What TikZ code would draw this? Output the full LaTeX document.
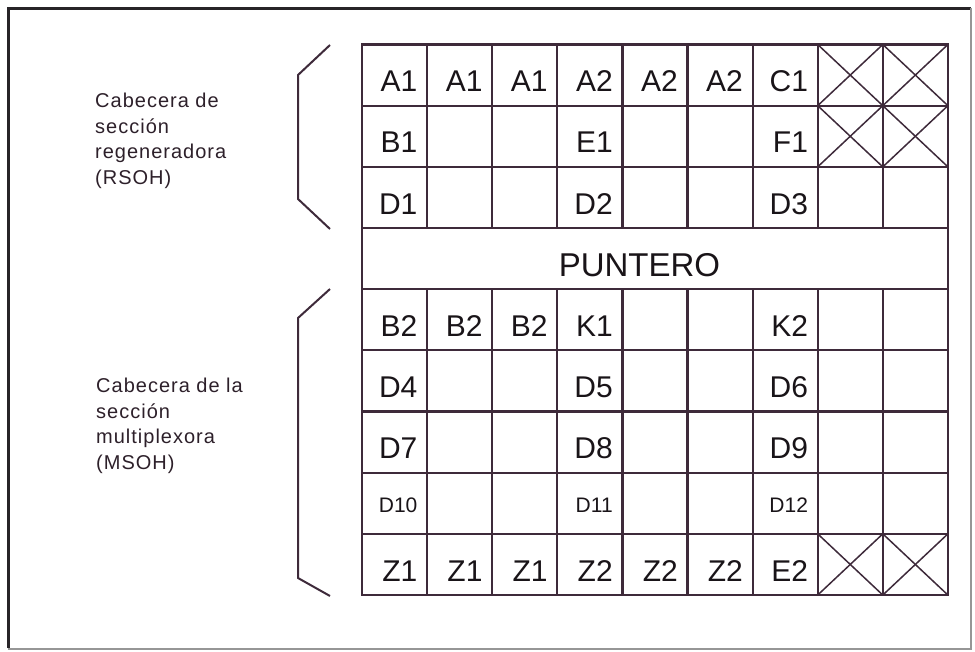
\documentclass[tikz,border=0pt]{standalone}
\usepackage{fontspec}
\setmainfont{Liberation Sans}
\definecolor{ln}{RGB}{62,42,58}
\definecolor{tx}{RGB}{25,20,24}
\definecolor{lt}{RGB}{45,32,42}
\definecolor{fr}{RGB}{40,36,40}
\definecolor{frg}{RGB}{150,150,150}
\begin{document}
\begin{tikzpicture}[x=1pt,y=-1pt,
  gridline/.style={draw=ln,line width=2.2pt,line cap=rect},
  crossline/.style={draw=ln,line width=1.5pt},
  bracketline/.style={draw=ln,line width=2pt},
  celltext/.style={anchor=base east,inner sep=0pt,text=tx,font=\fontsize{30}{30}\selectfont},
  smalltext/.style={anchor=base east,inner sep=0pt,text=tx,font=\fontsize{21}{21}\selectfont},
  sidetext/.style={anchor=base west,inner sep=0pt,text=lt,align=left,
     font=\fontsize{20}{25.5}\selectfont\addfontfeatures{LetterSpace=5}}]
\useasboundingbox (0,0) rectangle (975,651);
% frame
\draw[fr,line width=3pt] (8,648) -- (8,8) -- (971,8);
\draw[frg,line width=2pt] (8,649) -- (971,649) -- (971,8);
% grid coordinates
\def\gx#1{362+65.1*#1}
\def\gy#1{44.5+61.17*#1}
\foreach \j in {0,...,9}{
  \draw[gridline] ({\gx{0}},{\gy{\j}}) -- ({\gx{9}},{\gy{\j}});
}
\draw[gridline] ({\gx{0}},{\gy{0}}) -- ({\gx{0}},{\gy{9}});
\draw[gridline] ({\gx{9}},{\gy{0}}) -- ({\gx{9}},{\gy{9}});
\foreach \i in {1,...,8}{
  \draw[gridline] ({\gx{\i}},{\gy{0}}) -- ({\gx{\i}},{\gy{3}});
  \draw[gridline] ({\gx{\i}},{\gy{4}}) -- ({\gx{\i}},{\gy{9}});
}
% crossed cells
\foreach \r/\c in {0/7,0/8,1/7,1/8,8/7,8/8}{
  \draw[crossline] ({\gx{\c}},{\gy{\r}}) -- ({\gx{(\c+1)}},{\gy{(\r+1)}});
  \draw[crossline] ({\gx{(\c+1)}},{\gy{\r}}) -- ({\gx{\c}},{\gy{(\r+1)}});
}
% cell labels
\foreach \r/\c/\t in {0/0/A1,0/1/A1,0/2/A1,0/3/A2,0/4/A2,0/5/A2,0/6/C1,
  1/0/B1,1/3/E1,1/6/F1,2/0/D1,2/3/D2,2/6/D3,
  4/0/B2,4/1/B2,4/2/B2,4/3/K1,4/6/K2,
  5/0/D4,5/3/D5,5/6/D6,6/0/D7,6/3/D8,6/6/D9,
  8/0/Z1,8/1/Z1,8/2/Z1,8/3/Z2,8/4/Z2,8/5/Z2,8/6/E2}{
  \node[celltext] (c\r\c) at ({\gx{(\c+1)}-9.5},{\gy{(\r+1)}-14}) {\t};
}
\foreach \c/\t in {0/D10,3/D11,6/D12}{
  \node[smalltext] (s\c) at ({\gx{(\c+1)}-9.5},{\gy{8}-21.5}) {\t};
}
\node[anchor=base,inner sep=0pt,text=tx,font=\fontsize{33}{33}\selectfont] (ptr) at (639.5,276) {PUNTERO};
% brackets
\draw[bracketline] (330,45) -- (298,75) -- (298,199) -- (330,229);
\draw[bracketline] (330,289) -- (298,318) -- (298,578) -- (330,596);
% side labels (base anchor = last line)
\node[sidetext] (rsoh) at (95,184) {Cabecera de\\secci\'on\\regeneradora\\(RSOH)};
\node[sidetext] (msoh) at (96,469) {Cabecera de la\\secci\'on\\multiplexora\\(MSOH)};
\end{tikzpicture}
\end{document}
